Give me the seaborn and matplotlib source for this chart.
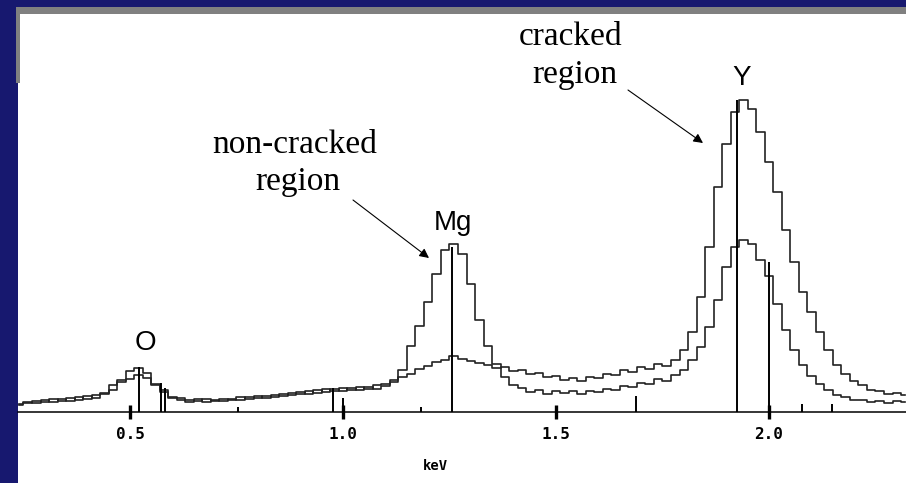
import matplotlib
matplotlib.use("Agg")
import matplotlib.pyplot as plt
import seaborn as sns
import pandas as pd
from matplotlib.patches import Rectangle

# ---------------- data ----------------
energy_kev = [
    0.24, 0.26, 0.28, 0.30, 0.32, 0.34, 0.36, 0.38, 0.40, 0.42,
    0.44, 0.46, 0.48, 0.50, 0.52, 0.54, 0.56, 0.58, 0.60, 0.62,
    0.64, 0.66, 0.68, 0.70, 0.72, 0.74, 0.76, 0.78, 0.80, 0.82,
    0.84, 0.86, 0.88, 0.90, 0.92, 0.94, 0.96, 0.98, 1.00, 1.02,
    1.04, 1.06, 1.08, 1.10, 1.12, 1.14, 1.16, 1.18, 1.20, 1.22,
    1.24, 1.26, 1.28, 1.30, 1.32, 1.34, 1.36, 1.38, 1.40, 1.42,
    1.44, 1.46, 1.48, 1.50, 1.52, 1.54, 1.56, 1.58, 1.60, 1.62,
    1.64, 1.66, 1.68, 1.70, 1.72, 1.74, 1.76, 1.78, 1.80, 1.82,
    1.84, 1.86, 1.88, 1.90, 1.92, 1.94, 1.96, 1.98, 2.00, 2.02,
    2.04, 2.06, 2.08, 2.10, 2.12, 2.14, 2.16, 2.18, 2.20, 2.22,
    2.24, 2.26, 2.28, 2.30, 2.32,
]
non_cracked_counts = [
    8, 10, 9, 12, 10, 13, 11, 15, 13, 17,
    19, 27, 32, 41, 44, 39, 28, 20, 14, 12,
    10, 13, 10, 12, 11, 13, 12, 15, 14, 16,
    15, 18, 17, 20, 18, 22, 20, 23, 21, 24,
    22, 25, 23, 26, 30, 42, 66, 86, 110, 138,
    162, 168, 158, 128, 92, 66, 48, 35, 27, 24,
    20, 22, 18, 21, 19, 21, 18, 21, 20, 23,
    22, 26, 25, 29, 28, 33, 31, 37, 42, 52,
    65, 85, 112, 145, 165, 172, 168, 152, 136, 108,
    82, 62, 47, 36, 28, 22, 17, 15, 12, 12,
    10, 11, 9, 11, 10,
]
cracked_counts = [
    7, 9, 11, 10, 13, 11, 14, 12, 16, 14,
    18, 22, 30, 33, 37, 34, 27, 22, 15, 14,
    12, 11, 13, 11, 13, 12, 15, 13, 16, 14,
    17, 16, 19, 18, 21, 19, 23, 21, 24, 22,
    25, 23, 27, 28, 32, 35, 38, 43, 46, 50,
    52, 56, 53, 51, 49, 47, 44, 45, 41, 42,
    38, 39, 35, 36, 32, 34, 31, 35, 34, 38,
    37, 42, 40, 45, 43, 48, 46, 52, 62, 80,
    115, 165, 225, 268, 300, 312, 303, 280, 250, 220,
    182, 150, 120, 100, 80, 62, 47, 38, 31, 27,
    22, 21, 18, 19, 17,
]
# element marker lines
marker_kev = [0.521, 0.573, 0.582, 0.754, 0.977, 1.000, 1.183, 1.256, 1.688, 1.925, 2.000, 2.077, 2.148]
marker_height = [45, 29, 24, 5, 24, 14, 5, 165, 16, 312, 150, 8, 8]

tick_values = [0.5, 1.0, 1.5, 2.0]
tick_labels = ["0.5", "1.0", "1.5", "2.0"]

# ---------------- figure ----------------
W, H = 906, 483
NAVY = "#17186f"
GRAY = "#808080"
fig = plt.figure(figsize=(W / 100, H / 100), dpi=100)
fig.patch.set_facecolor(NAVY)


def rect(x0, y0, x1, y1, color):
    fig.add_artist(Rectangle((x0 / W, 1 - y1 / H), (x1 - x0) / W, (y1 - y0) / H,
                             transform=fig.transFigure, facecolor=color,
                             edgecolor="none", zorder=-5))


rect(16, 7, W, 14, GRAY)
rect(16, 7, 20, 83, GRAY)
rect(20, 14, W, H, "white")
rect(18, 83, 20, H, "white")


def fx(x):
    return x / W


def fy(y):
    return 1 - y / H


ax = fig.add_axes([18 / W, 71 / H, 888 / W, 398 / H])
ax.patch.set_alpha(0)

df = pd.DataFrame({
    "keV": energy_kev * 2,
    "counts": non_cracked_counts + cracked_counts,
    "region": ["non-cracked"] * len(energy_kev) + ["cracked"] * len(energy_kev),
})
sns.lineplot(data=df, x="keV", y="counts", hue="region",
             palette={"non-cracked": "#222222", "cracked": "#222222"},
             legend=False, drawstyle="steps-mid", lw=1.2, ax=ax, estimator=None)

ax.vlines(marker_kev, 0, marker_height, color="black", lw=1.4)

ax.set_xlim(0.2371, 2.3216)
ax.set_ylim(0, 398)
for s in ["left", "right", "top"]:
    ax.spines[s].set_visible(False)
ax.spines["bottom"].set_linewidth(1.1)
ax.spines["bottom"].set_color("black")
ax.set_yticks([])
ax.set_xticks(tick_values)
ax.set_xticklabels(tick_labels)
ax.tick_params(axis="x", direction="inout", length=9.5, width=2.4, pad=6,
               labelsize=11.5, colors="black")
for lbl in ax.get_xticklabels():
    lbl.set_fontfamily("DejaVu Sans Mono")
    lbl.set_fontweight("bold")
ax.set_xlabel("")
ax.set_ylabel("")

fig.text(fx(435), fy(466), "keV", ha="center", va="center", fontsize=10,
         fontweight="bold", family="DejaVu Sans Mono")

# element labels
fig.text(fx(145), fy(350), "O", ha="center", va="baseline", fontsize=20, family="Liberation Sans")
fig.text(fx(453), fy(230), "Mg", ha="center", va="baseline", fontsize=20, family="Liberation Sans")
fig.text(fx(742), fy(85), "Y", ha="center", va="baseline", fontsize=20, family="Liberation Sans")

# region labels
fig.text(fx(295), fy(153), "non-cracked", ha="center", va="baseline", fontsize=24, family="Liberation Serif")
fig.text(fx(298), fy(190), "region", ha="center", va="baseline", fontsize=24, family="Liberation Serif")
fig.text(fx(571), fy(45), "cracked", ha="center", va="baseline", fontsize=24, family="Liberation Serif")
fig.text(fx(575), fy(83), "region", ha="center", va="baseline", fontsize=24, family="Liberation Serif")

arrow = dict(arrowstyle="-|>", color="black", lw=0.8, mutation_scale=14, shrinkA=0, shrinkB=0)
ax.annotate("", xy=(429, H - 258), xycoords="figure pixels",
            xytext=(353, H - 200), textcoords="figure pixels", arrowprops=arrow)
ax.annotate("", xy=(703, H - 143), xycoords="figure pixels",
            xytext=(628, H - 90), textcoords="figure pixels", arrowprops=arrow)

fig.savefig("out.png", dpi=100, facecolor=fig.get_facecolor())
